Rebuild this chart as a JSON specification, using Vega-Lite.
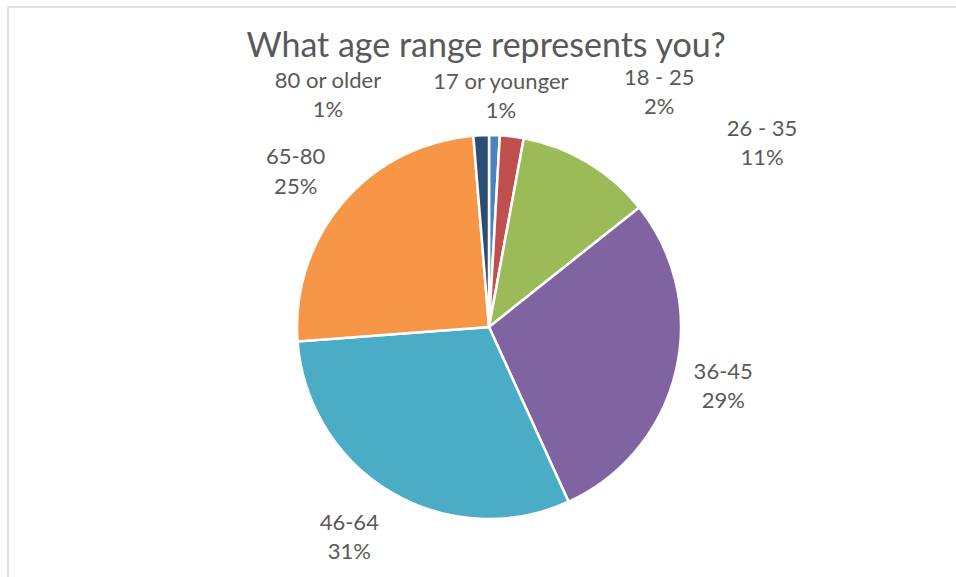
{
  "$schema": "https://vega.github.io/schema/vega-lite/v6.json",
  "width": 962,
  "height": 640,
  "autosize": {"type": "none"},
  "padding": {"left": 8, "top": 7, "right": 0, "bottom": 0},
  "background": "white",
  "view": {"stroke": "#d9d9d9", "strokeWidth": 1.5},
  "title": {
    "text": "What age range represents you?",
    "font": "Lato",
    "fontSize": 34,
    "fontWeight": "normal",
    "color": "#595959",
    "anchor": "middle",
    "dx": -3,
    "dy": 33,
    "offset": -51,
    "baseline": "alphabetic"
  },
  "data": {
    "values": [
      {"age": "17 or younger", "pct": 0.9, "label": "1%", "idx": 1},
      {"age": "18 - 25", "pct": 2.0, "label": "2%", "idx": 2},
      {"age": "26 - 35", "pct": 11.4, "label": "11%", "idx": 3},
      {"age": "36-45", "pct": 28.9, "label": "29%", "idx": 4},
      {"age": "46-64", "pct": 30.6, "label": "31%", "idx": 5},
      {"age": "65-80", "pct": 24.9, "label": "25%", "idx": 6},
      {"age": "80 or older", "pct": 1.3, "label": "1%", "idx": 7}
    ]
  },
  "transform": [
    {"calculate": "datum.age + '\\n' + datum.label", "as": "txt"}
  ],
  "encoding": {
    "theta": {"field": "pct", "type": "quantitative", "stack": true},
    "order": {"field": "idx", "type": "quantitative"}
  },
  "layer": [
    {
      "mark": {"type": "arc", "radius": 192, "stroke": "white", "strokeWidth": 2.5},
      "encoding": {
        "color": {
          "field": "age",
          "type": "nominal",
          "scale": {
            "domain": ["17 or younger", "18 - 25", "26 - 35", "36-45", "46-64", "65-80", "80 or older"],
            "range": ["#4f81bd", "#c0504d", "#9bbb59", "#8064a2", "#4bacc6", "#f79646", "#2c4d75"]
          },
          "legend": null
        }
      }
    },
    {
      "mark": {"type": "text", "radius": 245, "font": "Lato", "fontSize": 22, "color": "#595959", "lineBreak": "\n", "lineHeight": 29, "baseline": "middle", "align": "center", "dx": 5, "dy": 0},
      "encoding": {"text": {"field": "txt"}, "opacity": {"condition": {"test": "datum.age == '17 or younger'", "value": 1}, "value": 0}}
    },
    {
      "mark": {"type": "text", "radius": 245, "font": "Lato", "fontSize": 22, "color": "#595959", "lineBreak": "\n", "lineHeight": 29, "baseline": "middle", "align": "center", "dx": 141, "dy": -6},
      "encoding": {"text": {"field": "txt"}, "opacity": {"condition": {"test": "datum.age == '18 - 25'", "value": 1}, "value": 0}}
    },
    {
      "mark": {"type": "text", "radius": 245, "font": "Lato", "fontSize": 22, "color": "#595959", "lineBreak": "\n", "lineHeight": 29, "baseline": "middle", "align": "center", "dx": 147, "dy": 12},
      "encoding": {"text": {"field": "txt"}, "opacity": {"condition": {"test": "datum.age == '26 - 35'", "value": 1}, "value": 0}}
    },
    {
      "mark": {"type": "text", "radius": 245, "font": "Lato", "fontSize": 22, "color": "#595959", "lineBreak": "\n", "lineHeight": 29, "baseline": "middle", "align": "center", "dx": -4, "dy": -12},
      "encoding": {"text": {"field": "txt"}, "opacity": {"condition": {"test": "datum.age == '36-45'", "value": 1}, "value": 0}}
    },
    {
      "mark": {"type": "text", "radius": 245, "font": "Lato", "fontSize": 22, "color": "#595959", "lineBreak": "\n", "lineHeight": 29, "baseline": "middle", "align": "center", "dx": -15, "dy": -15},
      "encoding": {"text": {"field": "txt"}, "opacity": {"condition": {"test": "datum.age == '46-64'", "value": 1}, "value": 0}}
    },
    {
      "mark": {"type": "text", "radius": 245, "font": "Lato", "fontSize": 22, "color": "#595959", "lineBreak": "\n", "lineHeight": 30, "baseline": "middle", "align": "center", "dx": -7, "dy": -11},
      "encoding": {"text": {"field": "txt"}, "opacity": {"condition": {"test": "datum.age == '65-80'", "value": 1}, "value": 0}}
    },
    {
      "mark": {"type": "text", "radius": 245, "font": "Lato", "fontSize": 22, "color": "#595959", "lineBreak": "\n", "lineHeight": 29, "baseline": "middle", "align": "center", "dx": -151, "dy": -1},
      "encoding": {"text": {"field": "txt"}, "opacity": {"condition": {"test": "datum.age == '80 or older'", "value": 1}, "value": 0}}
    }
  ]
}
